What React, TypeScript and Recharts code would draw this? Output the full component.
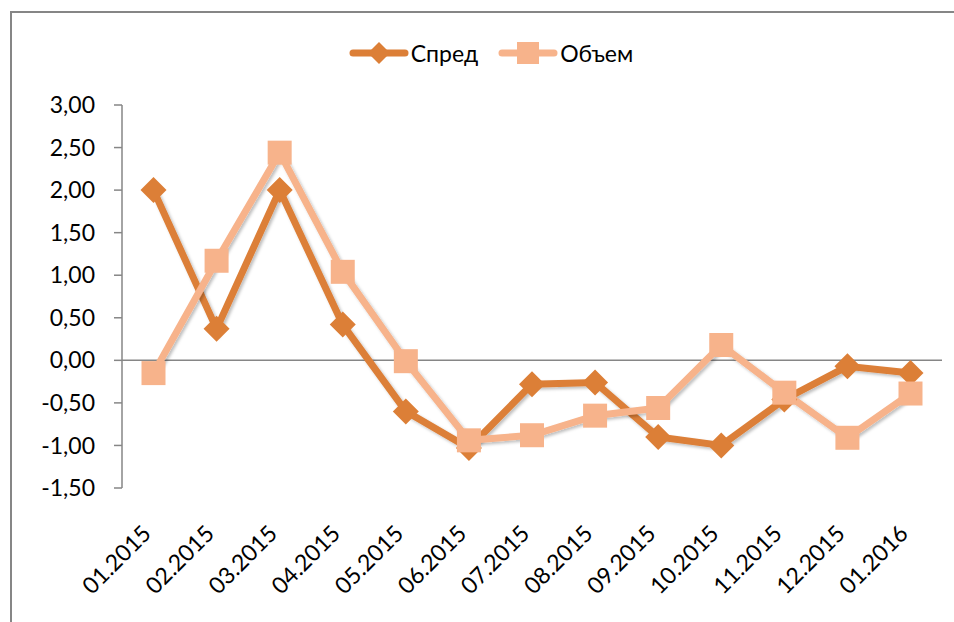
import { LineChart, Line, XAxis, YAxis, ReferenceLine, Legend } from "recharts";

const months = [
  "01.2015", "02.2015", "03.2015", "04.2015", "05.2015", "06.2015", "07.2015",
  "08.2015", "09.2015", "10.2015", "11.2015", "12.2015", "01.2016",
];
const spread = [2.0, 0.37, 2.0, 0.42, -0.6, -1.03, -0.28, -0.26, -0.9, -1.0, -0.46, -0.07, -0.15];
const volume = [-0.15, 1.17, 2.44, 1.04, -0.01, -0.94, -0.88, -0.65, -0.56, 0.18, -0.38, -0.91, -0.39];
const yTicks = [-1.5, -1, -0.5, 0, 0.5, 1, 1.5, 2, 2.5, 3];

const data = months.map((m, i) => ({ month: m, spread: spread[i], volume: volume[i] }));

const DARK = "#DC7F37";
const LIGHT = "#F7B38B";
const AXIS = "#868686";
const FONT = "Lato, 'Open Sans', sans-serif";

const Diamond = ({ cx, cy, color, r = 12 }: { cx: number; cy: number; color: string; r?: number }) => (
  <path d={`M${cx},${cy - r}L${cx + r},${cy}L${cx},${cy + r}L${cx - r},${cy}Z`} fill={color} />
);

const Square = ({ cx, cy, color, s = 24 }: { cx: number; cy: number; color: string; s?: number }) => (
  <rect x={cx - s / 2} y={cy - s / 2} width={s} height={s} fill={color} />
);

// rotated category labels, end of text sits just right of the point
const XTick = (props: any) => {
  const { x, y, payload } = props;
  const ax = x - 1;
  const ay = y + 45;
  return (
    <text
      x={ax}
      y={ay}
      transform={`rotate(-45, ${ax}, ${ay})`}
      textAnchor="end"
      fill="#000"
      fontSize={23}
      fontFamily={FONT}
    >
      {payload.value}
    </text>
  );
};

const LegendContent = () => (
  <div
    style={{
      display: "flex",
      justifyContent: "center",
      alignItems: "center",
      height: 40,
      paddingLeft: 28,
      fontFamily: FONT,
      fontSize: 23,
      color: "#000",
    }}
  >
    <svg width={60} height={30}>
      <line x1={4} y1={15} x2={56} y2={15} stroke={DARK} strokeWidth={7} strokeLinecap="round" />
      <Diamond cx={30} cy={15} color={DARK} r={11} />
    </svg>
    <span style={{ marginLeft: 2 }}>Спред</span>
    <svg width={60} height={30} style={{ marginLeft: 20 }}>
      <line x1={4} y1={15} x2={56} y2={15} stroke={LIGHT} strokeWidth={7} strokeLinecap="round" />
      <Square cx={30} cy={15} color={LIGHT} s={22} />
    </svg>
    <span style={{ marginLeft: 2 }}>Объем</span>
  </div>
);

export default function App() {
  return (
    <div
      style={{
        position: "absolute",
        left: 0,
        top: 0,
        width: 954,
        height: 622,
        overflow: "hidden",
        background: "#fff",
      }}
    >
      <div
        style={{
          position: "absolute",
          left: 10,
          top: 11,
          width: 980,
          height: 640,
          border: `2px solid ${AXIS}`,
        }}
      />
      <LineChart
        width={954}
        height={622}
        data={data}
        margin={{ top: 65, right: 12, bottom: 34, left: 0 }}
        style={{ position: "absolute", left: 0, top: 0 }}
      >
        <defs>
          <filter id="shadow" x="-20%" y="-20%" width="140%" height="140%">
            <feDropShadow dx={2} dy={2} stdDeviation={1.5} floodColor="#000" floodOpacity={0.25} />
          </filter>
        </defs>
        <Legend
          verticalAlign="top"
          content={<LegendContent />}
          wrapperStyle={{ top: 33, left: 0, width: 954 }}
        />
        <XAxis
          dataKey="month"
          interval={0}
          axisLine={false}
          tickLine={false}
          tickSize={0}
          height={100}
          padding={{ left: 31.5, right: 31.5 }}
          tick={<XTick />}
        />
        <YAxis
          width={122}
          domain={[-1.5, 3]}
          ticks={yTicks}
          interval={0}
          tickSize={8}
          tickMargin={19}
          axisLine={{ stroke: AXIS, strokeWidth: 1.5 }}
          tickLine={{ stroke: AXIS, strokeWidth: 1.5 }}
          tick={{ fill: "#000", fontSize: 23, fontFamily: FONT }}
          tickFormatter={(v: number) => v.toFixed(2).replace(".", ",")}
        />
        <ReferenceLine y={0} stroke={AXIS} strokeWidth={1.5} />
        <Line
          dataKey="spread"
          stroke={DARK}
          strokeWidth={7}
          filter="url(#shadow)"
          isAnimationActive={false}
          dot={(p: any) => <Diamond key={`s-${p.index}`} cx={p.cx} cy={p.cy} color={DARK} r={13} />}
          activeDot={false}
        />
        <Line
          dataKey="volume"
          stroke={LIGHT}
          strokeWidth={7}
          filter="url(#shadow)"
          isAnimationActive={false}
          dot={(p: any) => <Square key={`v-${p.index}`} cx={p.cx} cy={p.cy} color={LIGHT} s={24} />}
          activeDot={false}
        />
      </LineChart>
    </div>
  );
}
